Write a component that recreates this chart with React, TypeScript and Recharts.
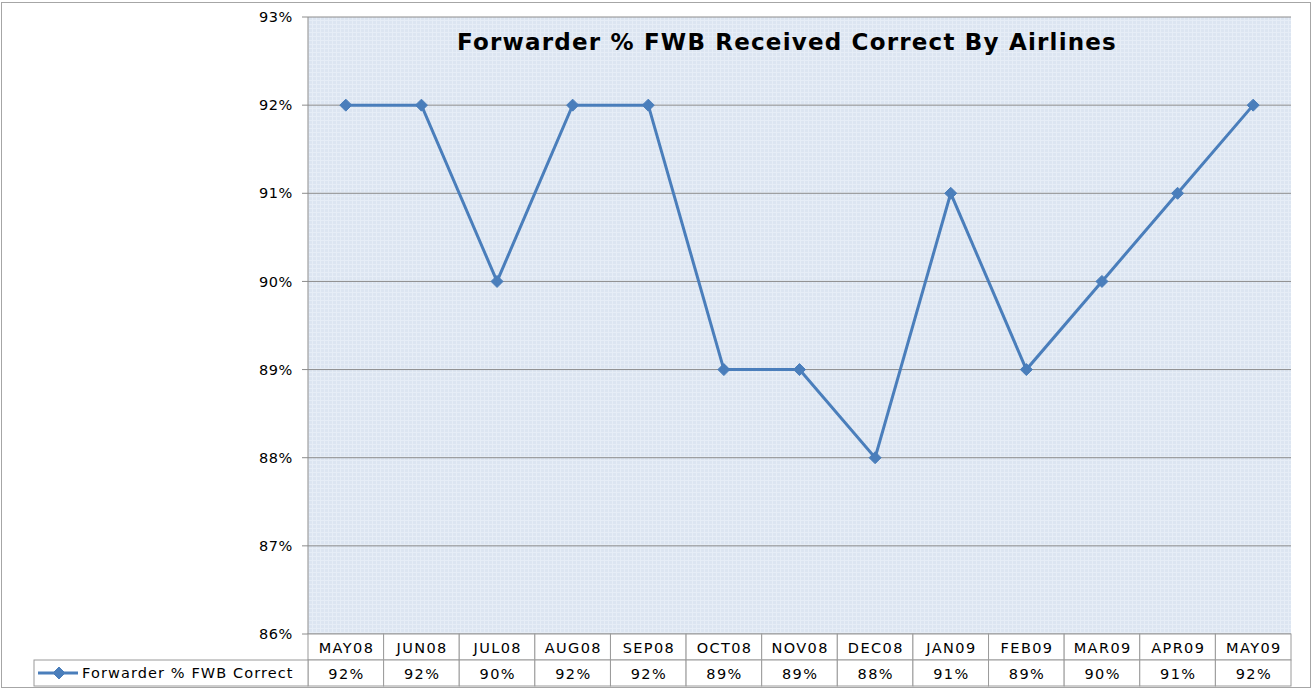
import { LineChart, Line, XAxis, YAxis, CartesianGrid } from 'recharts'

// Monthly share of FWB messages received correct (%)
const months = ['MAY08', 'JUN08', 'JUL08', 'AUG08', 'SEP08', 'OCT08', 'NOV08', 'DEC08', 'JAN09', 'FEB09', 'MAR09', 'APR09', 'MAY09']
const fwbCorrect = [92, 92, 90, 92, 92, 89, 89, 88, 91, 89, 90, 91, 92]
const yTicks = [86, 87, 88, 89, 90, 91, 92, 93]

const seriesName = 'Forwarder % FWB Correct'
const title = 'Forwarder % FWB Received Correct By Airlines'

const data = months.map((m, i) => ({ month: m, value: fwbCorrect[i] }))

const W = 1314
const H = 691
const PLOT_LEFT = 308
const PLOT_RIGHT = 1291
const PLOT_TOP = 17
const PLOT_BOTTOM = 634
const ROW_H = 26
const LEGEND_LEFT = 34
const BAND = (PLOT_RIGHT - PLOT_LEFT) / months.length
const FONT = '"DejaVu Sans", Verdana, sans-serif'
const LINE = '#4a7ebb'
const BORDER = '#9a9a9a'

function Diamond(props: any) {
  const { cx, cy } = props
  if (cx == null || cy == null) return null
  const r = 6
  return (
    <path
      d={`M${cx},${cy - r}L${cx + r},${cy}L${cx},${cy + r}L${cx - r},${cy}Z`}
      fill={LINE}
      stroke={LINE}
      strokeWidth={1}
    />
  )
}

function TableTick(props: any) {
  const { x, payload, index } = props
  const top = PLOT_BOTTOM
  const left = x - BAND / 2
  const v = fwbCorrect[index]
  const txt = { fontSize: 14.5, fontFamily: FONT, fill: '#000', letterSpacing: 1.4 }
  return (
    <g>
      <rect x={left} y={top} width={BAND} height={ROW_H} fill="#fff" stroke={BORDER} />
      <rect x={left} y={top + ROW_H} width={BAND} height={ROW_H} fill="#fff" stroke={BORDER} />
      <text x={x + 0.7} y={top + 19} textAnchor="middle" {...txt}>
        {payload.value}
      </text>
      <text x={x + 0.7} y={top + ROW_H + 19} textAnchor="middle" {...txt}>
        {v}%
      </text>
      {index === 0 && (
        <g>
          <rect
            x={LEGEND_LEFT}
            y={top + ROW_H}
            width={left - LEGEND_LEFT}
            height={ROW_H}
            fill="#fff"
            stroke={BORDER}
          />
          <line x1={LEGEND_LEFT + 4} x2={LEGEND_LEFT + 44} y1={top + ROW_H + 13} y2={top + ROW_H + 13} stroke={LINE} strokeWidth={3} />
          <Diamond cx={LEGEND_LEFT + 25} cy={top + ROW_H + 13} />
          <text x={LEGEND_LEFT + 48} y={top + ROW_H + 18} {...txt} fontSize={14.5} letterSpacing={1.1}>
            {seriesName}
          </text>
        </g>
      )}
    </g>
  )
}

export default function App() {
  return (
    <div style={{ position: 'absolute', left: 0, top: 0, width: W, height: H, background: '#fff' }}>
      <div
        style={{
          position: 'absolute',
          left: 1,
          top: 2,
          width: W - 4,
          height: H - 5,
          border: '1px solid #a6a6a6',
          boxSizing: 'border-box',
        }}
      />
      <LineChart
        width={W}
        height={H}
        data={data}
        margin={{ top: PLOT_TOP, right: W - PLOT_RIGHT, left: 0, bottom: 0 }}
        style={{ position: 'absolute', left: 0, top: 0 }}
      >
        <defs>
          <pattern id="plotTexture" width={4} height={4} patternUnits="userSpaceOnUse">
            <rect width={4} height={4} fill="#dce5f1" />
            <rect width={4} height={1} fill="#e6edf6" />
            <rect width={1} height={4} fill="#e6edf6" />
          </pattern>
        </defs>
        <CartesianGrid vertical={false} stroke="#8c8c8c" strokeWidth={1} fill="url(#plotTexture)" fillOpacity={1} />
        <XAxis
          dataKey="month"
          scale="band"
          height={H - PLOT_BOTTOM}
          axisLine={false}
          tickLine={false}
          tickSize={0}
          interval={0}
          tick={<TableTick />}
        />
        <YAxis
          width={PLOT_LEFT}
          domain={[86, 93]}
          ticks={yTicks}
          allowDataOverflow
          stroke="#8c8c8c"
          tickSize={6}
          tickMargin={9}
          tickFormatter={(v: number) => `${v}%`}
          tick={{ fontSize: 14.5, fontFamily: FONT, fill: '#000', letterSpacing: 0.6 }}
        />
        <text
          x={787}
          y={50}
          textAnchor="middle"
          fontSize={23}
          fontWeight="bold"
          fontFamily={FONT}
          letterSpacing={1.2}
          fill="#000"
        >
          {title}
        </text>
        <Line
          type="linear"
          dataKey="value"
          name={seriesName}
          stroke={LINE}
          strokeWidth={3}
          dot={<Diamond />}
          activeDot={false}
          isAnimationActive={false}
        />
      </LineChart>
    </div>
  )
}
